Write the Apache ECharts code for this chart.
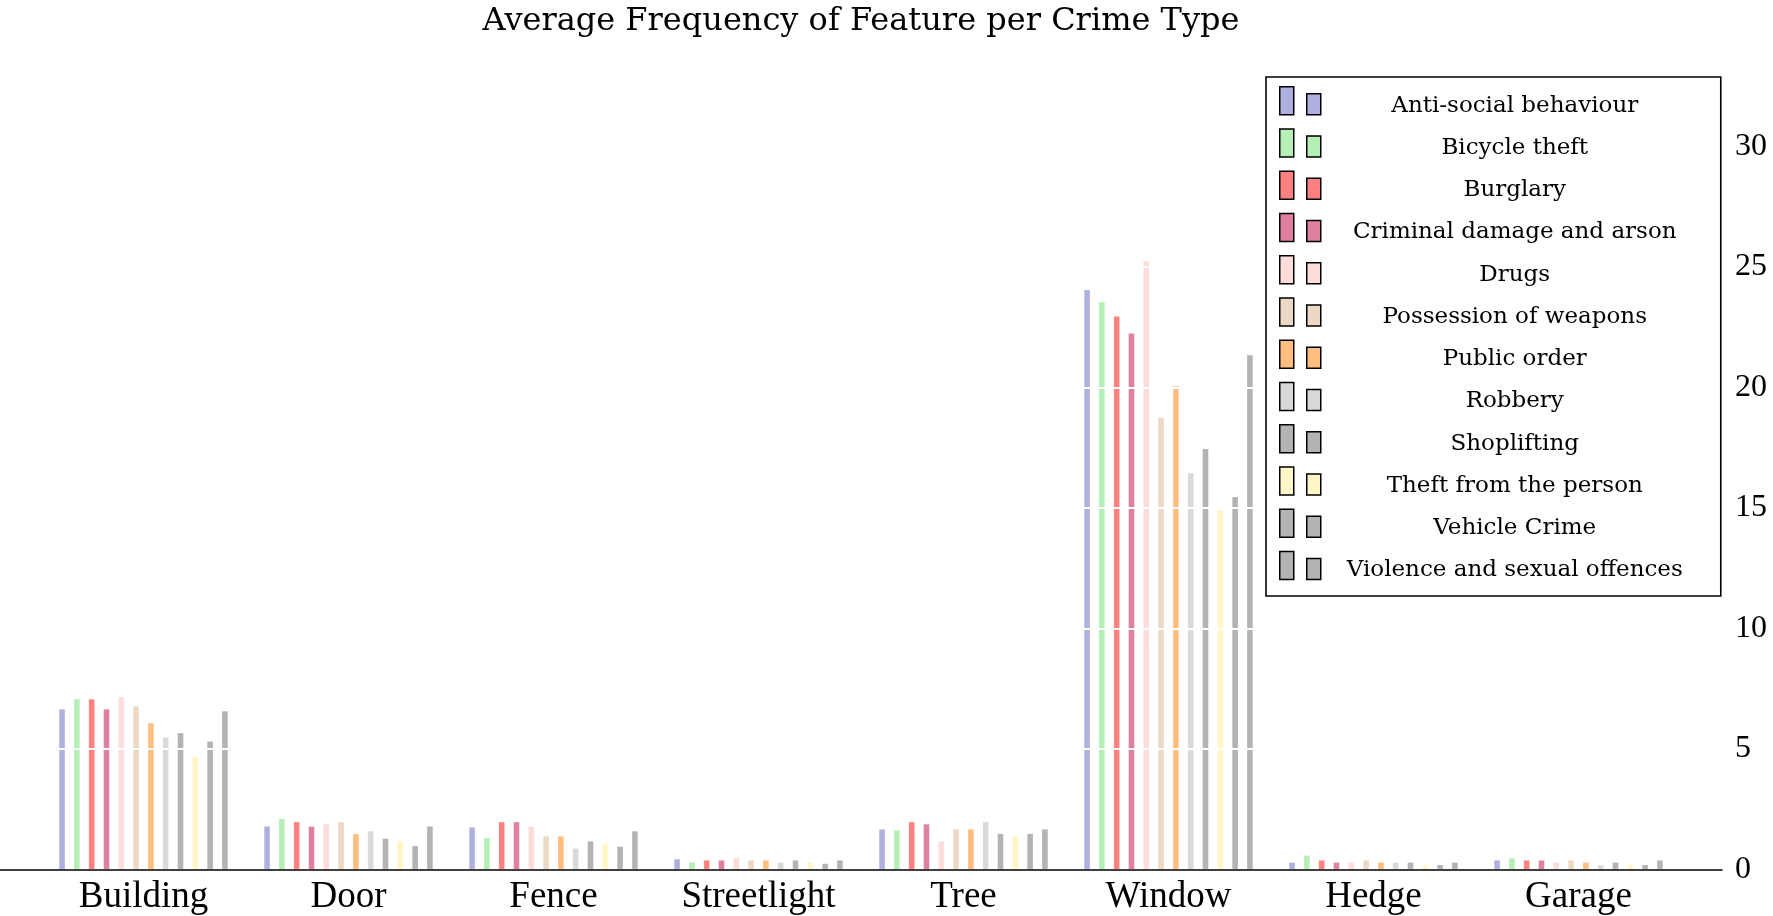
<!DOCTYPE html>
<html>
<head>
<meta charset="utf-8">
<script src="https://cdn.jsdelivr.net/npm/echarts@6/dist/echarts.min.js"></script>
<style>
  html, body { margin: 0; padding: 0; background: #fff; }
  #chart { width: 1773px; height: 916px; }
</style>
</head>
<body>
<div id="chart"></div>
<script>
// features on the x axis
const features = ["Building", "Door", "Fence", "Streetlight", "Tree", "Window", "Hedge", "Garage"];

// crime types (one bar each per feature)
const crimeTypes = [
  "Anti-social behaviour", "Bicycle theft", "Burglary", "Criminal damage and arson",
  "Drugs", "Possession of weapons", "Public order", "Robbery", "Shoplifting",
  "Theft from the person", "Vehicle Crime", "Violence and sexual offences"
];

const colors = [
  "#b0b0e0", "#b5efb5", "#ff8080", "#e080a0", "#fddcdc", "#ecd8c4",
  "#ffbe80", "#d9d9d9", "#b3b3b3", "#fff6c8", "#b3b3b3", "#b3b3b3"
];

// average frequency per feature, in crimeTypes order
const building    = [6.66, 7.07, 7.07, 6.66, 7.17, 6.78, 6.08, 5.49, 5.68, 4.67, 5.32, 6.58];
const door        = [1.80, 2.11, 1.98, 1.79, 1.89, 1.98, 1.49, 1.60, 1.29, 1.18, 0.99, 1.80];
const fence       = [1.76, 1.32, 1.98, 1.98, 1.79, 1.39, 1.39, 0.88, 1.18, 1.10, 0.96, 1.60];
const streetlight = [0.44, 0.31, 0.39, 0.39, 0.49, 0.39, 0.39, 0.30, 0.39, 0.30, 0.25, 0.39];
const tree        = [1.68, 1.64, 1.98, 1.89, 1.18, 1.68, 1.68, 1.98, 1.49, 1.39, 1.49, 1.68];
const windowF     = [24.05, 23.55, 22.95, 22.25, 25.25, 18.75, 20.06, 16.45, 17.46, 14.92, 15.46, 21.35];
const hedge       = [0.30, 0.59, 0.39, 0.30, 0.30, 0.39, 0.30, 0.30, 0.30, 0.19, 0.20, 0.30];
const garage      = [0.39, 0.48, 0.39, 0.39, 0.30, 0.39, 0.30, 0.19, 0.30, 0.19, 0.20, 0.39];

const yTicks = { min: 0, max: 33, interval: 5 };

const table = [building, door, fence, streetlight, tree, windowF, hedge, garage];

const series = crimeTypes.map(function (name, i) {
  return {
    name: name,
    type: "bar",
    xAxisIndex: 0,
    yAxisIndex: 0,
    barWidth: 6.3,
    barGap: "135%",
    itemStyle: {
      color: colors[i],
      borderColor: "rgba(255,255,255,0.25)",
      borderWidth: 0.6
    },
    emphasis: { disabled: true },
    data: table.map(function (row) { return row[i]; })
  };
});

var myChart = echarts.init(document.getElementById("chart"));

var option = {
  animation: false,
  backgroundColor: "#fff",
  title: {
    text: "Average Frequency of Feature per Crime Type",
    left: 861,
    textAlign: "center",
    top: 6,
    padding: 0,
    textStyle: {
      fontFamily: "DejaVu Serif",
      fontWeight: "normal",
      fontSize: 32,
      color: "#000"
    }
  },
  legend: {
    orient: "vertical",
    left: 1266,
    top: 77,
    z: 10,
    backgroundColor: "#fff",
    borderColor: "#000",
    borderWidth: 1.6,
    borderRadius: 0,
    padding: [9, 38, 14, 13],
    itemWidth: 41,
    itemHeight: 28,
    itemGap: 11,
    icon: "path://M0,0 L14,0 L14,28 L0,28 Z M27,7 L41,7 L41,28 L27,28 Z",
    itemStyle: { borderColor: "#000", borderWidth: 1.5 },
    data: crimeTypes,
    formatter: function (name) { return "{a|" + name + "}"; },
    textStyle: {
      rich: {
        a: {
          width: 378,
          align: "center",
          padding: [10, 0, 0, 0],
          fontFamily: "DejaVu Serif",
          fontSize: 23,
          color: "#000"
        }
      }
    }
  },
  grid: [
    { left: 41, right: 92, top: 74, bottom: 46.5 },
    { left: 0, right: 51, top: 74, bottom: 46.5 }
  ],
  xAxis: [
    {
      gridIndex: 0,
      type: "category",
      data: features,
      axisLine: { show: false },
      axisTick: { show: false },
      axisLabel: {
        margin: 9,
        fontFamily: "Liberation Serif",
        fontSize: 37,
        color: "#000"
      }
    },
    {
      gridIndex: 1,
      type: "value",
      min: 0,
      max: 1,
      z: 5,
      axisLine: { show: true, lineStyle: { color: "#000", width: 1.5 } },
      axisTick: { show: false },
      axisLabel: { show: false },
      splitLine: { show: false }
    }
  ],
  yAxis: [
    {
      gridIndex: 0,
      type: "value",
      min: yTicks.min,
      max: yTicks.max,
      interval: yTicks.interval,
      show: false
    },
    {
      gridIndex: 1,
      type: "value",
      position: "right",
      min: yTicks.min,
      max: yTicks.max,
      interval: yTicks.interval,
      z: 5,
      axisLine: { show: false },
      axisTick: { show: false },
      axisLabel: {
        margin: 13,
        showMaxLabel: false,
        fontFamily: "Liberation Serif",
        fontSize: 32,
        color: "#000"
      },
      splitLine: { show: true, lineStyle: { color: "#fff", width: 2 } }
    }
  ],
  series: series
};

option && myChart.setOption(option);
</script>
</body>
</html>
